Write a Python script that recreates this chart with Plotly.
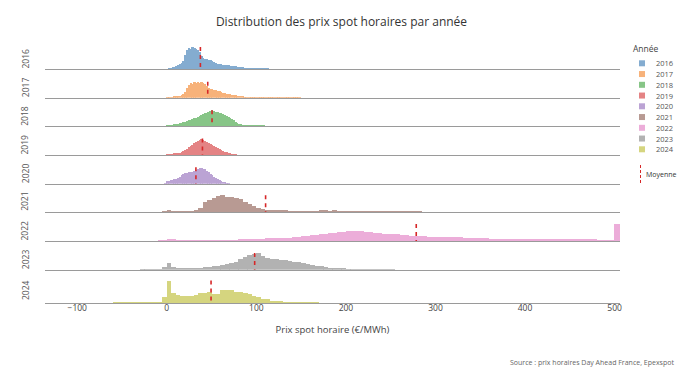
import plotly.graph_objects as go

# ---------------- data ----------------
YEARS = [2016, 2017, 2018, 2019, 2020, 2021, 2022, 2023, 2024]
# pale versions of the category colours (as drawn in the reference)
COLORS = ["#84acd0", "#f7b27a", "#87c587", "#e48384", "#bba3d4",
          "#b89a93", "#ecadd9", "#b2b2b2", "#d5d57f"]

# left edge of the first bin and bin width (EUR/MWh) for each year
BIN_START = [0, 0, 0, 0, -2, -5, -10, -30, -60]
BIN_WIDTH = [2, 2, 2, 2, 2, 5, 10, 5, 5]

# bar heights (relative number of hours per bin)
COUNTS_2016 = [0, 0.3, 0.8, 1.2, 2, 3, 4, 5, 6, 8, 14, 19, 21, 20, 22, 21, 20, 19, 17, 13,
               11, 10, 10, 9, 9, 8, 7, 6, 5.5, 5, 5, 4.5, 4.5, 4, 4, 3.5, 3.5, 3, 3, 2.5,
               2, 1.5, 1.2, 1, 0.8, 0.7, 0.6, 0.5, 0.4, 0.4, 0.3, 0.3, 0.3, 0.2, 0.2, 0.2, 0.2]
COUNTS_2017 = [0.5, 0.5, 0.8, 1, 1.2, 1.5, 2, 2.5, 3, 4, 6, 10, 13, 15, 14, 16, 15, 16, 15, 16,
               15, 14, 12, 10, 9, 9, 8, 8, 7, 7, 6, 5, 5, 4.5, 4, 4, 3.5, 3, 3, 2.5,
               2, 1.5, 1.2, 1, 1, 0.8, 0.7, 0.6, 0.5, 0.5, 0.4, 0.4, 0.4, 0.3, 0.3, 0.3, 0.3,
               0.3, 0.2, 0.2, 0.3, 0.2, 0.2, 0.2, 0.2, 0.2, 0.2, 0.2, 0.2, 0.2, 0.2, 0.2,
               0.2, 0.2, 0.2]
COUNTS_2018 = [0.3, 0.5, 0.8, 1, 1.5, 2, 2.5, 3, 3.5, 4, 4.5, 5, 6, 6.5, 7, 8, 8.5, 9.5, 10.5, 11,
               12, 13, 13.5, 14, 15, 16, 15, 14.5, 14, 13.5, 13, 12, 11, 10, 9, 8, 7, 6, 4.5, 3,
               2, 1.5, 1, 0.8, 0.6, 0.5, 0.4, 0.3, 0.3, 0.2, 0.2, 0.2, 0.2, 0.2, 0.2]
COUNTS_2019 = [0.3, 0.5, 0.8, 1, 1.2, 1.5, 2, 2.5, 3, 4, 5, 6, 8, 9, 10, 12, 13, 14, 15, 16.5,
               15, 14, 13, 12.5, 11, 10, 9, 8, 7, 6, 5, 4, 3.5, 3, 2.5, 2, 1, 0.5, 0.3]
COUNTS_2020 = [1, 3, 3.5, 4, 4.5, 5, 5.5, 6.5, 7.5, 9, 10, 11, 11.5, 12, 12.5, 12, 13, 14, 15, 16.5,
               16, 15.5, 15, 13.5, 12, 10.5, 9, 7.5, 6, 5, 4, 3, 2, 1.2, 0.6, 0.3]
COUNTS_2021 = [0.3, 2.5, 0.5, 0.5, 0.5, 0.7, 1, 2, 4.5, 10, 12, 14, 16.5, 17, 15.5, 15, 14, 13, 10, 8,
               6, 4.5, 3, 2, 1.5, 1.5, 1.2, 1.2, 1, 1, 1, 1, 1, 1, 1, 1.2, 1.2, 1, 1.2, 1,
               1, 1, 0.8, 0.8, 0.8, 0.7, 0.6, 0.6, 0.5, 0.5, 0.5, 0.4, 0.4, 0.4, 0.3, 0.3, 0.3, 0.3]
COUNTS_2022 = [0.5, 1.2, 0.3, 0.2, 0.2, 0.2, 0.3, 0.4, 0.8, 1.5, 2.5, 2.5, 2.8, 3, 3, 4, 5, 6, 7, 8.5,
               9.5, 10.3, 10, 9, 8, 7.5, 7, 6.5, 5.5, 5, 4.5, 4, 3.8, 3.6, 3.3, 3, 3.2, 2.5, 2.4, 2.2,
               2.2, 2, 2, 2, 1.8, 1.6, 1.5, 1.3, 1.2, 1, 0.8, 17]
COUNTS_2023 = [0.2, 0.3, 0.4, 0.6, 0.8, 3, 7.5, 3.5, 2.5, 2, 2, 2, 2.2, 2.5, 3, 3.5, 4, 4.5, 5, 6,
               7, 8, 11, 13.5, 15.5, 16.2, 16.7, 14, 12, 11, 11, 10.5, 10, 9.5, 8.5, 8, 7, 6, 5.5, 4.5,
               4, 3, 2.5, 2, 1.5, 1.2, 1, 0.8, 0.8, 0.7, 0.6, 0.5, 0.5, 0.4, 0.5, 0.3, 0.3]
COUNTS_2024 = [0.15, 0.15, 0.15, 0.15, 0.2, 0.2, 0.3, 0.3, 0.4, 0.6, 0.8, 6, 22.5, 10, 8.5, 7.5, 7.5, 7.5, 8, 10.5,
               10.5, 11, 9.5, 9, 13, 13.3, 13, 11.5, 11, 10.5, 9, 7, 6, 4.5, 4, 2.5, 2, 1.2, 1, 0.8,
               0.6, 0.5, 0.4, 0.3, 0.3, 0.2]
COUNTS = [COUNTS_2016, COUNTS_2017, COUNTS_2018, COUNTS_2019, COUNTS_2020,
          COUNTS_2021, COUNTS_2022, COUNTS_2023, COUNTS_2024]

# yearly mean price (EUR/MWh)
MEANS = [37.5, 45.7, 50.5, 39.8, 32.5, 110.3, 278.5, 98.1, 49.4]

X_TICKS = [-100, 0, 100, 200, 300, 400, 500]
X_RANGE = [-136, 506]

TITLE = "Distribution des prix spot horaires par année"
X_TITLE = "Prix spot horaire (€/MWh)"
LEGEND_TITLE = "Année"
MEAN_LABEL = "Moyenne"
SOURCE = "Source : prix horaires Day Ahead France, Epexspot"

# ---------------- layout geometry (pixels) ----------------
W, H = 680, 370
P_L, P_R, P_T, P_B = 45, 620, 40, 303        # plot area
ML, MR, MT, MB = P_L, W - P_R, P_T, H - P_B
PW, PH = P_R - P_L, P_B - P_T
ROW_PX = 28.0
BASELINES = [69 + i * 28.67 for i in range(8)] + [303]
LABEL_OFF = [10.5] * 8 + [13]
FONT = "Open Sans"
TXT = "#444"


def px_x(px):
    return (px - P_L) / PW


def px_y(py):
    return (P_B - py) / PH


fig = go.Figure()
layout = dict()
annotations = []
shapes = []

n = len(YEARS)
for i, (year, col, vals, s, w, m) in enumerate(zip(YEARS, COLORS, COUNTS, BIN_START, BIN_WIDTH, MEANS)):
    xa = "x" if i == 0 else f"x{i+1}"
    ya = "y" if i == 0 else f"y{i+1}"
    centers = [s + w * (k + 0.5) for k in range(len(vals))]
    fig.add_trace(go.Bar(
        x=centers, y=vals, width=[w * 1.04] * len(vals), xaxis=xa, yaxis=ya,
        marker=dict(color=col, line=dict(width=0)),
        name=str(year), showlegend=False, hoverinfo="x+y"))
    top = max(vals)
    fig.add_trace(go.Scatter(
        x=[m, m], y=[top, 0], xaxis=xa, yaxis=ya, mode="lines",
        line=dict(color="#d62728", width=1.6, dash="4px,4px"),
        showlegend=False, hoverinfo="skip"))

    b = BASELINES[i]
    y0 = px_y(b)
    last = (i == n - 1)
    layout["xaxis" if i == 0 else f"xaxis{i+1}"] = dict(
        domain=[0, 1], anchor=ya, range=X_RANGE,
        showline=True, linecolor="#9a9a9a", linewidth=1.2,
        showgrid=False, zeroline=False, ticks="",
        showticklabels=last, tickvals=X_TICKS, ticklabelstandoff=-3,
        tickfont=dict(size=8.5, color=TXT, family=FONT),
        title=dict(text=X_TITLE if last else "", standoff=14,
                   font=dict(size=9.5, color=TXT, family=FONT)),
        automargin=False)
    layout["yaxis" if i == 0 else f"yaxis{i+1}"] = dict(
        domain=[y0, y0 + ROW_PX / PH], range=[0, ROW_PX], visible=False, fixedrange=True)

    annotations.append(dict(
        text=str(year), xref="paper", yref="paper", x=px_x(25), y=px_y(b - LABEL_OFF[i]),
        textangle=-90, showarrow=False, xanchor="center", yanchor="middle",
        font=dict(size=8.5, color="#555", family=FONT)))

    # legend entry (square + year)
    ly = 63.3 + i * 10.75
    shapes.append(dict(type="rect", xref="paper", yref="paper",
                       x0=px_x(639), x1=px_x(645), y0=px_y(ly + 3), y1=px_y(ly - 3),
                       fillcolor=col, line=dict(width=0)))
    annotations.append(dict(
        text=str(year), xref="paper", yref="paper", x=px_x(654), y=px_y(ly),
        showarrow=False, xanchor="left", yanchor="middle",
        font=dict(size=7.5, color="#555", family=FONT)))

annotations.append(dict(text=LEGEND_TITLE, xref="paper", yref="paper", x=px_x(631), y=px_y(48),
                        showarrow=False, xanchor="left", yanchor="middle",
                        font=dict(size=8.5, color="#444", family=FONT)))
shapes.append(dict(type="line", xref="paper", yref="paper",
                   x0=px_x(640.5), x1=px_x(640.5), y0=px_y(165), y1=px_y(183),
                   line=dict(color="#d62728", width=1, dash="3px,2px")))
annotations.append(dict(text=MEAN_LABEL, xref="paper", yref="paper", x=px_x(644), y=px_y(174),
                        showarrow=False, xanchor="left", yanchor="middle",
                        font=dict(size=7, color="#333", family=FONT)))
annotations.append(dict(text=SOURCE, xref="paper", yref="paper", x=px_x(676), y=px_y(362),
                        showarrow=False, xanchor="right", yanchor="middle",
                        font=dict(size=7, color="#666", family=FONT)))

fig.update_layout(
    width=W, height=H,
    margin=dict(l=ML, r=MR, t=MT, b=MB, autoexpand=False),
    paper_bgcolor="white", plot_bgcolor="white",
    barmode="overlay", bargap=0,
    showlegend=False,
    font=dict(family=FONT, color=TXT),
    title=dict(text=TITLE, x=341.5 / W, xanchor="center",
               y=1 - 22 / H, yanchor="middle",
               font=dict(size=12, color="#333", family=FONT)),
    annotations=annotations, shapes=shapes,
    **layout)

# remove the default 8 px page margin so the 680x370 figure fills the window
fig.write_html("out.html",
               config={"displayModeBar": False},
               post_script="document.body.style.margin='0';document.body.style.overflow='hidden';")
